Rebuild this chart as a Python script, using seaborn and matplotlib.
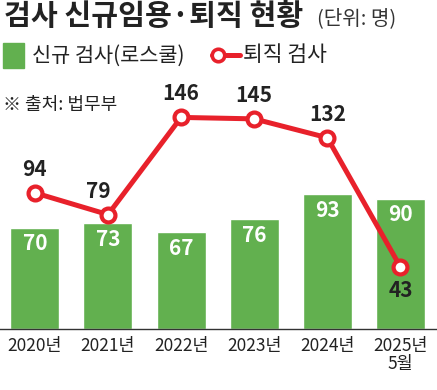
import numpy as np
import pandas as pd
import matplotlib.pyplot as plt
import seaborn as sns

# data
years = ['2020년', '2021년', '2022년', '2023년', '2024년', '2025년\n5월']
new_prosecutors = [70, 73, 67, 76, 93, 90]
retired_prosecutors = [94, 79, 146, 145, 132, 43]

sns.set_style('white')
plt.rcParams['font.family'] = ['Noto Sans CJK KR', 'DejaVu Sans']

green = '#62b04f'
red = '#e8212b'
dark = '#222222'

df = pd.DataFrame({'year': years, 'new': new_prosecutors, 'retired': retired_prosecutors})

fig = plt.figure(figsize=(4.37, 3.90), dpi=100)
ax = fig.add_axes([0.0, 0.156, 1.0, 0.595])

sns.barplot(data=df, x='year', y='new', color=green, width=0.67, saturation=1, ax=ax)
xs = np.arange(len(years))
sns.lineplot(x=xs, y=df['retired'], color=red, linewidth=3.6, marker='o',
             markersize=10, markerfacecolor='white', markeredgecolor=red,
             markeredgewidth=3, ax=ax, zorder=5)

ax.set_xlim(-0.477, 5.501)
ax.set_ylim(0, 160)

# labels in the bars
for x, v in zip(xs, new_prosecutors):
    ax.text(x, v - 4, str(v), color='white', ha='center', va='top',
            fontsize=15, fontweight='bold')

# labels on the line
for x, v in zip(xs, retired_prosecutors):
    if x == 5:
        ax.text(x, v - 9, str(v), color=dark, ha='center', va='top',
                fontsize=15, fontweight='bold')
    elif x == 1:
        ax.text(x - 0.13, v + 9, str(v), color=dark, ha='center', va='bottom',
                fontsize=15, fontweight='bold')
    else:
        ax.text(x, v + 9, str(v), color=dark, ha='center', va='bottom',
                fontsize=15, fontweight='bold')

ax.set_xlabel('')
ax.set_ylabel('')
ax.set_yticks([])
ax.set_xticks(xs)
ax.set_xticklabels(years, fontsize=12.5, color=dark, linespacing=1.0)
ax.tick_params(axis='x', length=0, pad=6)
for s in ['top', 'right', 'left']:
    ax.spines[s].set_visible(False)
ax.spines['bottom'].set_color('#333333')
ax.spines['bottom'].set_linewidth(1.0)

# title and legend rows
fig.text(0.01, 0.997, '검사 신규임용·퇴직 현황', fontsize=21, fontweight='bold',
         va='top', ha='left', color=dark)
fig.text(0.725, 0.978, '(단위: 명)', fontsize=14.5, va='top', ha='left', color='#333333')

fig.patches.append(plt.Rectangle((0.007, 0.826), 0.048, 0.064, color=green,
                                 transform=fig.transFigure, figure=fig))
fig.text(0.073, 0.858, '신규 검사(로스쿨)', fontsize=15, va='center', ha='left', color=dark)
fig.lines.append(plt.Line2D([0.485, 0.55], [0.858, 0.858], color=red, linewidth=3.6,
                            transform=fig.transFigure, figure=fig))
fig.lines.append(plt.Line2D([0.498], [0.858], color=red, marker='o', markersize=9,
                            markerfacecolor='white', markeredgewidth=2.6,
                            transform=fig.transFigure, figure=fig))
fig.text(0.556, 0.858, '퇴직 검사', fontsize=15.5, va='center', ha='left', color=dark)
fig.text(0.007, 0.73, '※ 출처: 법무부', fontsize=13, va='center', ha='left', color=dark)

fig.savefig('out.png', dpi=100)
